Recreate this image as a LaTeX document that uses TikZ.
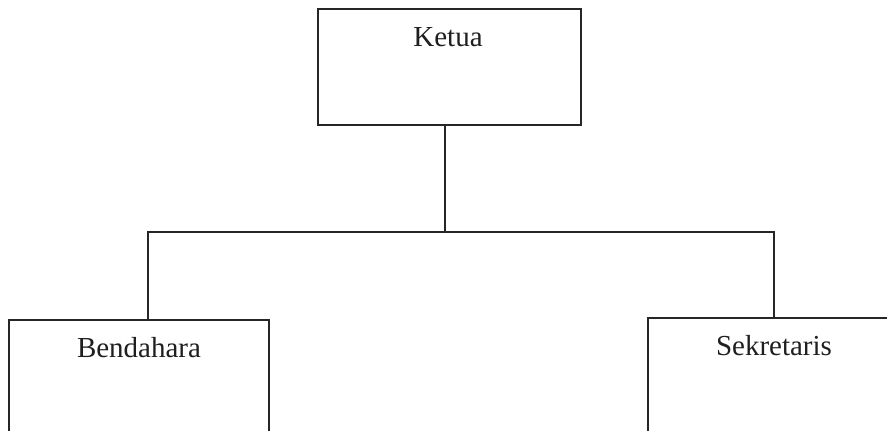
\documentclass[tikz,border=0pt]{standalone}
\usepackage{fontspec}
\setmainfont{Liberation Serif}
\begin{document}
\begin{tikzpicture}[x=1pt,y=-1pt,
  box/.style={draw=black!85, line width=1.6pt, fill=white, anchor=north west, inner sep=0pt},
  lbl/.style={anchor=base, inner sep=0pt, text=black!88, font=\fontsize{29}{32}\selectfont},
  conn/.style={draw=black!85, line width=1.6pt}]
\useasboundingbox (0,0) rectangle (887,431);
\clip (0,0) rectangle (887,431);
\fill[white] (0,0) rectangle (887,431);
\node[box, minimum width=263pt, minimum height=116pt] (K) at (317,8) {};
\node[box, minimum width=260pt, minimum height=140pt] (B) at (8,319) {};
\node[box, minimum width=258pt, minimum height=140pt] (S) at (647,317) {};
\node[lbl] (tK) at (448,46) {Ketua};
\node[lbl] (tB) at (139,357) {Bendahara};
\node[lbl] (tS) at (774,355) {Sekretaris};
\coordinate (J) at (445,232);
\draw[conn] (K.south -| J) -- (J);
\draw[conn] ([xshift=9pt]B.north) |- (J) -| ([xshift=-3pt]S.north);
\end{tikzpicture}
\end{document}
